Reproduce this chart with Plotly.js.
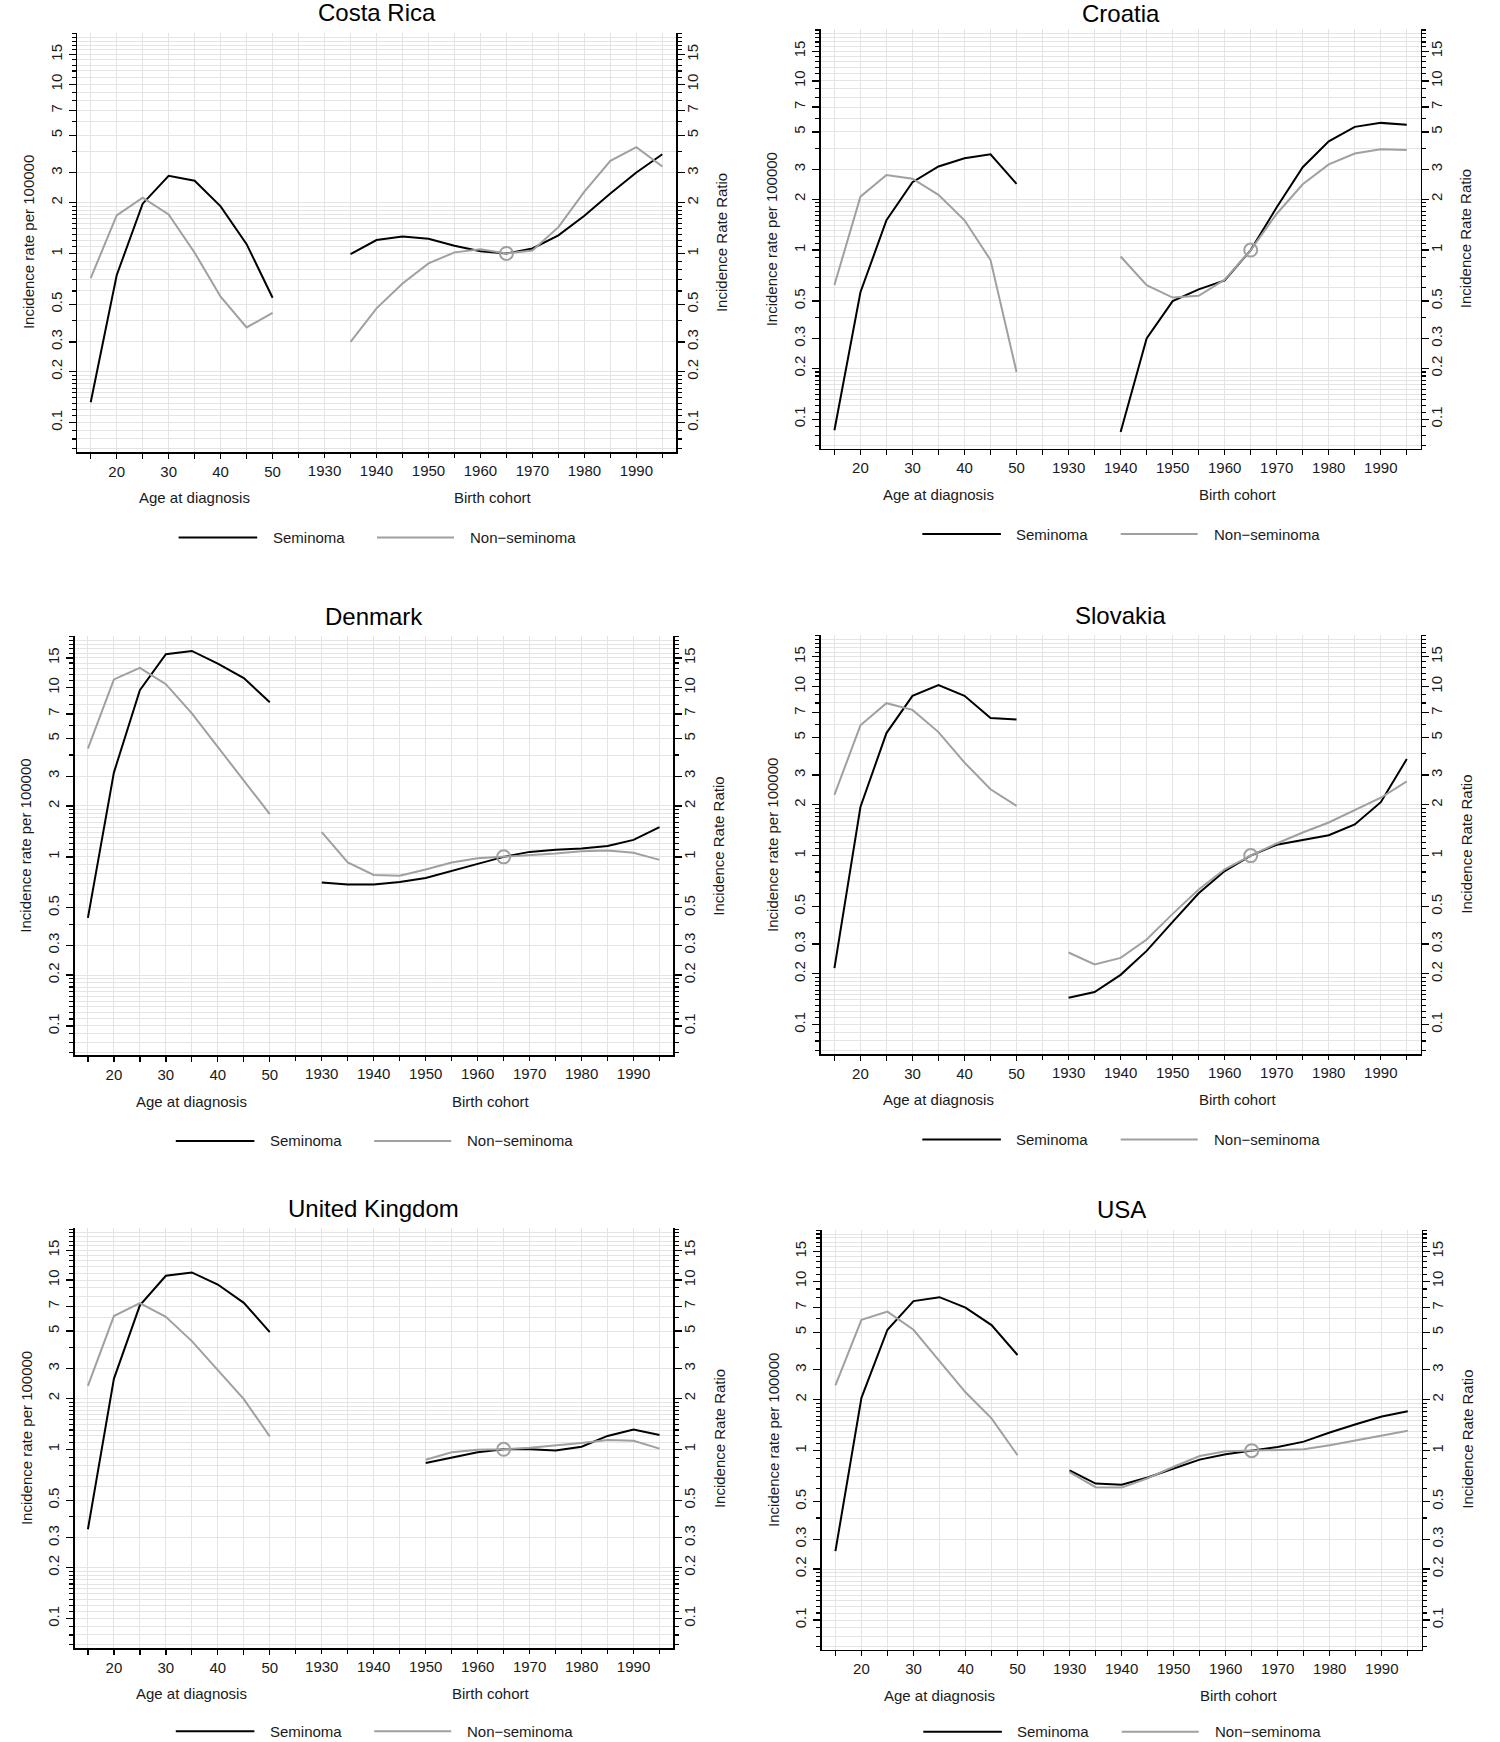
<!DOCTYPE html>
<html>
<head>
<meta charset="utf-8">
<script src="https://cdn.plot.ly/plotly-3.0.1.min.js"></script>
<style>html,body{margin:0;padding:0;background:#fff;}#chart{width:1500px;height:1742px;}</style>
</head>
<body>
<div id="chart"></div>
<script>
// ---------------- DATA ----------------
const ageGroups = [15, 20, 25, 30, 35, 40, 45, 50];
const ageTickVals = [15, 20, 25, 30, 35, 40, 45, 50];
const ageTickText = ["", "20", "", "30", "", "40", "", "50"];
const cohortTickVals = [1925, 1930, 1935, 1940, 1945, 1950, 1955, 1960, 1965, 1970, 1975, 1980, 1985, 1990, 1995];
const cohortTickText = ["", "1930", "", "1940", "", "1950", "", "1960", "", "1970", "", "1980", "", "1990", ""];
const yTickVals = [0.1, 0.2, 0.3, 0.5, 1, 2, 3, 5, 7, 10, 15];
const yTickText = ["0.1", "0.2", "0.3", "0.5", "1", "2", "3", "5", "7", "10", "15"];
const yMinorVals = [0.07, 0.08, 0.09, 0.1, 0.11, 0.12, 0.13, 0.14, 0.15, 0.16, 0.17, 0.18, 0.19,
  0.2, 0.3, 0.4, 0.5, 0.6, 0.7, 0.8, 0.9, 1, 1.1, 1.2, 1.3, 1.4, 1.5, 1.6, 1.7, 1.8, 1.9,
  2, 3, 4, 5, 6, 7, 8, 9, 10, 11, 12, 13, 14, 15, 16, 17, 18, 19, 20];
const refCohort = [1965];
const refRatio = [1];
const seriesNames = ["Seminoma", "Non\u2212seminoma"];

const countries = ["Costa Rica", "Croatia", "Denmark", "Slovakia", "United Kingdom", "USA"];

const costaRicaAgeSem    = [0.132, 0.743, 1.97, 2.88, 2.69, 1.90, 1.135, 0.547];
const costaRicaAgeNonSem = [0.714, 1.68, 2.14, 1.70, 1.01, 0.555, 0.365, 0.445];
const costaRicaCohorts   = [1935, 1940, 1945, 1950, 1955, 1960, 1965, 1970, 1975, 1980, 1985, 1990, 1995];
const costaRicaCohortSem    = [0.99, 1.20, 1.26, 1.22, 1.11, 1.03, 1.0, 1.07, 1.28, 1.67, 2.26, 3.01, 3.86];
const costaRicaCohortNonSem = [0.30, 0.474, 0.664, 0.873, 1.015, 1.06, 1.0, 1.04, 1.43, 2.32, 3.53, 4.25, 3.27];

const croatiaAgeSem    = [0.086, 0.563, 1.50, 2.52, 3.12, 3.49, 3.68, 2.46];
const croatiaAgeNonSem = [0.621, 2.07, 2.78, 2.64, 2.12, 1.50, 0.873, 0.19];
const croatiaCohorts   = [1940, 1945, 1950, 1955, 1960, 1965, 1970, 1975, 1980, 1985, 1990, 1995];
const croatiaCohortSem    = [0.084, 0.30, 0.499, 0.586, 0.661, 1.0, 1.79, 3.09, 4.39, 5.35, 5.65, 5.51];
const croatiaCohortNonSem = [0.916, 0.621, 0.524, 0.537, 0.668, 1.0, 1.64, 2.45, 3.21, 3.72, 3.94, 3.90];

const denmarkAgeSem    = [0.436, 3.15, 9.68, 15.8, 16.5, 13.9, 11.4, 8.2];
const denmarkAgeNonSem = [4.37, 11.2, 13.1, 10.5, 7.05, 4.48, 2.85, 1.79];
const denmarkCohorts   = [1930, 1935, 1940, 1945, 1950, 1955, 1960, 1965, 1970, 1975, 1980, 1985, 1990, 1995];
const denmarkCohortSem    = [0.706, 0.686, 0.686, 0.71, 0.75, 0.822, 0.909, 1.0, 1.07, 1.10, 1.12, 1.16, 1.26, 1.50];
const denmarkCohortNonSem = [1.40, 0.927, 0.782, 0.774, 0.843, 0.927, 0.98, 1.0, 1.015, 1.046, 1.08, 1.09, 1.057, 0.96];

const slovakiaAgeSem    = [0.216, 1.94, 5.31, 8.82, 10.2, 8.82, 6.52, 6.39];
const slovakiaAgeNonSem = [2.29, 5.90, 7.98, 7.28, 5.38, 3.55, 2.47, 1.97];
const slovakiaCohorts   = [1930, 1935, 1940, 1945, 1950, 1955, 1960, 1965, 1970, 1975, 1980, 1985, 1990, 1995];
const slovakiaCohortSem    = [0.144, 0.156, 0.197, 0.273, 0.405, 0.599, 0.81, 1.0, 1.16, 1.24, 1.32, 1.53, 2.07, 3.73];
const slovakiaCohortNonSem = [0.267, 0.227, 0.248, 0.319, 0.452, 0.63, 0.83, 1.0, 1.18, 1.37, 1.57, 1.85, 2.20, 2.75];

const ukAgeSem    = [0.337, 2.61, 7.09, 10.6, 11.1, 9.41, 7.34, 4.92];
const ukAgeNonSem = [2.37, 6.13, 7.3, 6.07, 4.36, 2.92, 1.98, 1.19];
const ukCohorts   = [1950, 1955, 1960, 1965, 1970, 1975, 1980, 1985, 1990, 1995];
const ukCohortSem    = [0.831, 0.894, 0.962, 1.0, 1.0, 0.985, 1.035, 1.20, 1.31, 1.215];
const ukCohortNonSem = [0.868, 0.962, 0.995, 1.0, 1.02, 1.05, 1.09, 1.135, 1.124, 1.01];

const usaAgeSem    = [0.255, 2.05, 5.17, 7.63, 8.05, 6.99, 5.51, 3.67];
const usaAgeNonSem = [2.43, 5.92, 6.62, 5.17, 3.38, 2.21, 1.55, 0.939];
const usaCohorts   = [1930, 1935, 1940, 1945, 1950, 1955, 1960, 1965, 1970, 1975, 1980, 1985, 1990, 1995];
const usaCohortSem    = [0.765, 0.639, 0.629, 0.694, 0.784, 0.885, 0.953, 1.0, 1.05, 1.13, 1.28, 1.43, 1.59, 1.71];
const usaCohortNonSem = [0.746, 0.608, 0.605, 0.687, 0.803, 0.929, 0.99, 1.0, 1.0, 1.02, 1.075, 1.146, 1.227, 1.31];

// ---------------- LAYOUT / STYLE ----------------
const W = 1500, H = 1742;
const FONT = "Liberation Sans, Arial, Helvetica, sans-serif";
const TXT = "#1a1a1a";
const BLACK = "#000000", GREY = "#a0a0a0";
const GRID = "#e4e4e4";
const ageRange = [12.42, 127.63];          // shared pixel span: age 15 .. cohort 1995
const cohortOffset = 1870;                 // cohort axis shifted so 1930 sits two ticks right of age 50
const yRange = [Math.log10(0.067), Math.log10(20.2)];

// panel plot areas in pixels [left, right, top, bottom]
const geom = [
  [77.3, 676.0, 32.7, 452.0],
  [821.0, 1420.5, 29.3, 448.6],
  [74.5, 673.2, 636.1, 1055.4],
  [821.0, 1420.5, 635.0, 1054.0],
  [74.5, 673.2, 1228.4, 1648.0],
  [822.0, 1421.5, 1229.5, 1649.5]
];
// title centre offset above plot top, legend offset below plot bottom
const titleOffset = [20, 16, 20, 19.3, 20, 20];
const legendOffset = [85.5, 85.5, 85.5, 85.5, 83.3, 82.3];

const panelData = [
  [costaRicaAgeSem, costaRicaAgeNonSem, costaRicaCohorts, costaRicaCohortSem, costaRicaCohortNonSem],
  [croatiaAgeSem, croatiaAgeNonSem, croatiaCohorts, croatiaCohortSem, croatiaCohortNonSem],
  [denmarkAgeSem, denmarkAgeNonSem, denmarkCohorts, denmarkCohortSem, denmarkCohortNonSem],
  [slovakiaAgeSem, slovakiaAgeNonSem, slovakiaCohorts, slovakiaCohortSem, slovakiaCohortNonSem],
  [ukAgeSem, ukAgeNonSem, ukCohorts, ukCohortSem, ukCohortNonSem],
  [usaAgeSem, usaAgeNonSem, usaCohorts, usaCohortSem, usaCohortNonSem]
];

const traces = [];
const layout = {
  width: W, height: H,
  margin: {l: 0, r: 0, t: 0, b: 0},
  paper_bgcolor: "#ffffff", plot_bgcolor: "rgba(0,0,0,0)",
  showlegend: false,
  font: {family: FONT, size: 15, color: TXT},
  annotations: [], shapes: []
};
const px = v => v / W;
const py = v => 1 - v / H;
const tickfont = {family: FONT, size: 15, color: TXT};

countries.forEach((name, i) => {
  const [L, R, T, B] = geom[i];
  const [aSem, aNon, coh, cSem, cNon] = panelData[i];
  const nA = 2 * i + 1, nC = 2 * i + 2;
  const xA = "x" + nA, xC = "x" + nC, yL = "y" + nA, yR = "y" + nC;
  const key = (p, n) => n === 1 ? p + "axis" : p + "axis" + n;

  layout[key("x", nA)] = {
    domain: [px(L), px(R)], anchor: yL, range: ageRange,
    tickmode: "array", tickvals: ageTickVals, ticktext: ageTickText,
    ticks: "outside", ticklen: 5, tickwidth: 1.3, tickcolor: BLACK,
    showline: true, linecolor: BLACK, linewidth: 1.6,
    showgrid: true, gridcolor: GRID, gridwidth: 1, zeroline: false,
    tickfont: tickfont, fixedrange: true
  };
  layout[key("x", nC)] = {
    overlaying: xA, anchor: yL, side: "bottom",
    range: [ageRange[0] + cohortOffset, ageRange[1] + cohortOffset],
    tickmode: "array", tickvals: cohortTickVals, ticktext: cohortTickText,
    ticks: "outside", ticklen: 5, tickwidth: 1.3, tickcolor: BLACK,
    showline: false, showgrid: true, gridcolor: GRID, gridwidth: 1, zeroline: false,
    tickfont: tickfont, fixedrange: true
  };
  const yCommon = {
    type: "log", range: yRange,
    tickmode: "array", tickvals: yTickVals, ticktext: yTickText, tickangle: -90,
    ticks: "outside", ticklen: 7, tickwidth: 1.3, tickcolor: BLACK,
    showline: true, linecolor: BLACK, linewidth: 1.6, zeroline: false,
    tickfont: tickfont, fixedrange: true,
    minor: {tickmode: "array", tickvals: yMinorVals, ticks: "outside", ticklen: 4,
            tickwidth: 1.1, tickcolor: BLACK, showgrid: true, gridcolor: GRID, gridwidth: 1}
  };
  layout[key("y", nA)] = Object.assign({}, yCommon, {
    domain: [py(B), py(T)], anchor: xA, side: "left", showgrid: true, gridcolor: GRID,
    ticklabelstandoff: 1
  });
  layout[key("y", nC)] = Object.assign({}, yCommon, {
    overlaying: yL, anchor: xA, side: "right", showgrid: false,
    minor: Object.assign({}, yCommon.minor, {showgrid: false}),
    ticklabelstandoff: -5
  });

  // age curves (rate, left axis)
  traces.push({x: ageGroups, y: aSem, xaxis: xA, yaxis: yL, mode: "lines", name: seriesNames[0],
               line: {color: BLACK, width: 2}, hoverinfo: "skip"});
  traces.push({x: ageGroups, y: aNon, xaxis: xA, yaxis: yL, mode: "lines", name: seriesNames[1],
               line: {color: GREY, width: 2}, hoverinfo: "skip"});
  // cohort curves (rate ratio, right axis)
  traces.push({x: coh, y: cSem, xaxis: xC, yaxis: yR, mode: "lines", name: seriesNames[0],
               line: {color: BLACK, width: 2}, hoverinfo: "skip"});
  traces.push({x: coh, y: cNon, xaxis: xC, yaxis: yR, mode: "lines", name: seriesNames[1],
               line: {color: GREY, width: 2}, hoverinfo: "skip"});
  traces.push({x: refCohort, y: refRatio, xaxis: xC, yaxis: yR, mode: "markers",
               marker: {symbol: "circle-open", size: 13, color: GREY, line: {width: 2, color: GREY}},
               hoverinfo: "skip"});

  const span = ageRange[1] - ageRange[0];
  const posX = v => L + (v - ageRange[0]) / span * (R - L);

  // panel title
  layout.annotations.push({text: name, xref: "paper", yref: "paper", x: px((L + R) / 2), y: py(T - titleOffset[i]),
    xanchor: "center", yanchor: "middle", showarrow: false, font: {family: FONT, size: 24, color: "#000"}});
  // x axis titles
  layout.annotations.push({text: "Age at diagnosis", xref: "paper", yref: "paper", x: px(posX(35)), y: py(B + 45.7),
    xanchor: "center", yanchor: "middle", showarrow: false, font: {family: FONT, size: 15, color: TXT}});
  layout.annotations.push({text: "Birth cohort", xref: "paper", yref: "paper", x: px(posX(92.5)), y: py(B + 45.7),
    xanchor: "center", yanchor: "middle", showarrow: false, font: {family: FONT, size: 15, color: TXT}});
  // y axis titles
  layout.annotations.push({text: "Incidence rate per 100000", xref: "paper", yref: "paper", x: px(L - 48.6), y: py((T + B) / 2),
    xanchor: "center", yanchor: "middle", textangle: -90, showarrow: false, font: {family: FONT, size: 15, color: TXT}});
  layout.annotations.push({text: "Incidence Rate Ratio", xref: "paper", yref: "paper", x: px(R + 45.7), y: py((T + B) / 2),
    xanchor: "center", yanchor: "middle", textangle: -90, showarrow: false, font: {family: FONT, size: 15, color: TXT}});

  // legend
  const ly = B + legendOffset[i];
  layout.shapes.push({type: "line", xref: "paper", yref: "paper", x0: px(L + 101.3), x1: px(L + 179.9), y0: py(ly), y1: py(ly),
    line: {color: BLACK, width: 2}});
  layout.shapes.push({type: "line", xref: "paper", yref: "paper", x0: px(L + 299.7), x1: px(L + 376.7), y0: py(ly), y1: py(ly),
    line: {color: GREY, width: 2}});
  layout.annotations.push({text: seriesNames[0], xref: "paper", yref: "paper", x: px(L + 193.3), y: py(ly),
    xanchor: "left", yanchor: "middle", showarrow: false, font: {family: FONT, size: 15, color: TXT}});
  layout.annotations.push({text: seriesNames[1], xref: "paper", yref: "paper", x: px(L + 390.7), y: py(ly),
    xanchor: "left", yanchor: "middle", showarrow: false, font: {family: FONT, size: 15, color: TXT}});
});

Plotly.newPlot("chart", traces, layout, {staticPlot: true, displayModeBar: false});
</script>
</body>
</html>
